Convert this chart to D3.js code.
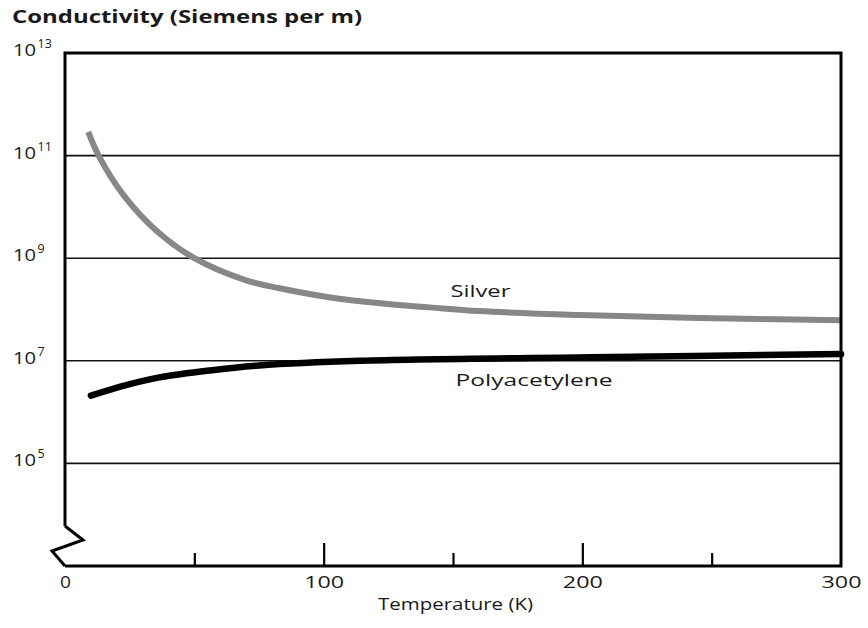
<!DOCTYPE html>
<html>
<head>
<meta charset="utf-8">
<script src="https://cdn.jsdelivr.net/npm/d3@7"></script>
<style>
  body { margin: 0; background: #fff; }
  text { font-family: "Open Sans", "Noto Sans", sans-serif; fill: #1a1a1a; }
</style>
</head>
<body>
<div class="chart"></div>
<script>
var svgWidth = 868;
var svgHeight = 628;

var margin = { top: 53, right: 27, bottom: 62, left: 65 };

var width = svgWidth - margin.left - margin.right;
var height = svgHeight - margin.top - margin.bottom;

// silver (K, S/m)
var silverTemp = [9, 13, 23, 36, 50, 70, 83, 102, 122, 141, 160, 199, 245, 300];
var silverCond = [2.9e11, 1.0e11, 1.6e10, 3.2e9, 1.0e9, 3.7e8, 2.6e8, 1.74e8, 1.32e8, 1.1e8, 9.3e7, 7.8e7, 6.8e7, 6.2e7];

// polyacetylene
var polyTemp = [10, 24, 37, 56, 75, 114, 203, 300];
var polyCond = [2.1e6, 3.4e6, 4.8e6, 6.5e6, 8.1e6, 1.0e7, 1.17e7, 1.35e7];

var xLabels = [0, 100, 200, 300];
var xMinorTicks = [50, 150, 250];
var xMajorTicks = [100, 200];
var yExponents = [5, 7, 9, 11, 13];
var gridExponents = [5, 7, 9, 11];

var svg = d3.select(".chart")
  .append("svg")
  .attr("width", svgWidth)
  .attr("height", svgHeight);

var chartGroup = svg.append("g")
  .attr("transform", `translate(${margin.left}, ${margin.top})`);

var xScale = d3.scaleLinear()
  .domain([0, 300])
  .range([0, width]);

var yScale = d3.scaleLog()
  .domain([1e3, 1e13])
  .range([height, 0]);

// grid lines
chartGroup.selectAll(".grid")
  .data(gridExponents)
  .enter()
  .append("line")
  .attr("x1", 0)
  .attr("x2", width)
  .attr("y1", d => yScale(Math.pow(10, d)))
  .attr("y2", d => yScale(Math.pow(10, d)))
  .attr("stroke", "#111")
  .attr("stroke-width", 1.6);

// curves
var drawLine = d3.line()
  .curve(d3.curveCatmullRom.alpha(0.5));

var silverPts = silverTemp.map((t, i) => [xScale(t), yScale(silverCond[i])]);
var polyPts = polyTemp.map((t, i) => [xScale(t), yScale(polyCond[i])]);

chartGroup.append("path")
  .attr("d", drawLine(silverPts))
  .attr("fill", "none")
  .attr("stroke", "#878787")
  .attr("stroke-width", 6);

chartGroup.append("path")
  .attr("d", drawLine(polyPts))
  .attr("fill", "none")
  .attr("stroke", "#000")
  .attr("stroke-linecap", "round")
  .attr("stroke-width", 6.5);

// frame with axis break at bottom left
var zz = [
  [0, height - 40],
  [18, height - 26],
  [-13, height - 15],
  [0, height]
];
var framePath = "M" + zz.map(p => p.join(",")).join("L") +
  "M0," + (height - 40) + "L0,0L" + width + ",0L" + width + "," + height + "L0," + height;

chartGroup.append("path")
  .attr("d", framePath)
  .attr("fill", "none")
  .attr("stroke", "#000")
  .attr("stroke-width", 3)
  .attr("stroke-linejoin", "miter");

// inward ticks on the x axis
[[xMinorTicks, 13], [xMajorTicks, 23]].forEach(function(t) {
  var g = chartGroup.append("g")
    .attr("transform", `translate(0, ${height})`)
    .call(d3.axisTop(xScale).tickValues(t[0]).tickSize(t[1]).tickFormat(""));
  g.select(".domain").remove();
  g.selectAll("line").attr("stroke", "#000").attr("stroke-width", 2.2);
});

// x labels
var xAxis = chartGroup.append("g")
  .attr("transform", `translate(0, ${height})`)
  .call(d3.axisBottom(xScale).tickValues(xLabels).tickSize(0).tickPadding(10));
xAxis.select(".domain").remove();
xAxis.selectAll("text")
  .attr("font-size", 17)
  .attr("font-family", "'Open Sans', sans-serif")
  .attr("fill", "#1a1a1a")
  .attr("textLength", d => d === 0 ? 11 : 40)
  .attr("lengthAdjust", "spacingAndGlyphs");

// y labels: 10 with superscript exponent
var yLab = svg.selectAll(".ylab")
  .data(yExponents)
  .enter()
  .append("text")
  .attr("x", 13)
  .attr("y", d => margin.top + yScale(Math.pow(10, d)) + 3)
  .attr("font-size", 17);
yLab.append("tspan")
  .attr("textLength", 23)
  .attr("lengthAdjust", "spacingAndGlyphs")
  .text("10");
yLab.append("tspan")
  .attr("dx", 1.5)
  .attr("dy", -8)
  .attr("font-size", 12.5)
  .text(d => d);

// titles and labels
svg.append("text")
  .attr("x", 12)
  .attr("y", 23)
  .attr("font-size", 18)
  .attr("font-weight", "bold")
  .attr("textLength", 350)
  .attr("lengthAdjust", "spacingAndGlyphs")
  .text("Conductivity (Siemens per m)");

svg.append("text")
  .attr("x", 378)
  .attr("y", 610)
  .attr("font-size", 17)
  .attr("textLength", 155)
  .attr("lengthAdjust", "spacingAndGlyphs")
  .text("Temperature (K)");

chartGroup.append("text")
  .attr("x", xScale(149))
  .attr("y", 297 - margin.top)
  .attr("font-size", 17)
  .attr("textLength", 60)
  .attr("lengthAdjust", "spacingAndGlyphs")
  .text("Silver");

chartGroup.append("text")
  .attr("x", xScale(151))
  .attr("y", 386 - margin.top)
  .attr("font-size", 17)
  .attr("textLength", 157)
  .attr("lengthAdjust", "spacingAndGlyphs")
  .text("Polyacetylene");
</script>
</body>
</html>
